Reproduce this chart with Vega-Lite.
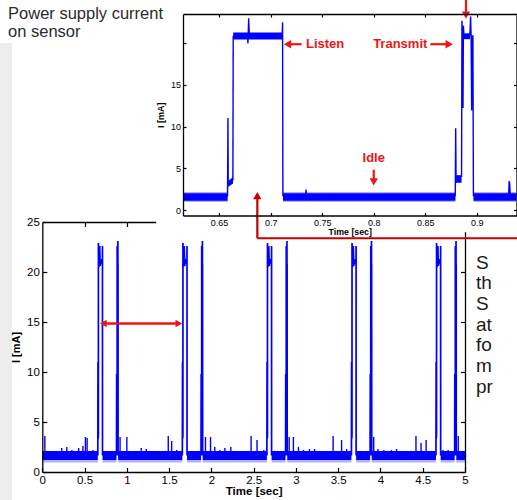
{
  "$schema": "https://vega.github.io/schema/vega-lite/v6.json",
  "width": 517,
  "height": 500,
  "autosize": "none",
  "padding": 0,
  "background": "white",
  "config": {
    "view": {"stroke": null},
    "font": "Liberation Sans",
    "axis": {"grid": false, "labelFlush": false, "labelOverlap": false, "domainColor": "#000", "tickColor": "#000", "labelColor": "#000", "titleColor": "#000", "labelFont": "Liberation Sans", "titleFont": "Liberation Sans", "domainWidth": 1.3, "tickWidth": 1.2}
  },
  "datasets": {
    "mband": [
      {"seg": "B0", "t": 0, "lo": 1.2, "hi": 2.1, "flo": 0.95},
      {"seg": "B0", "t": 0.6565, "lo": 1.2, "hi": 2.1, "flo": 0.95},
      {"seg": "B1", "t": 0.7122, "lo": 1.2, "hi": 2.1, "flo": 0.95},
      {"seg": "B1", "t": 0.8775, "lo": 1.2, "hi": 2.1, "flo": 0.95},
      {"seg": "B2", "t": 0.8967, "lo": 1.2, "hi": 2.1, "flo": 0.95},
      {"seg": "B2", "t": 1.6565, "lo": 1.2, "hi": 2.1, "flo": 0.95},
      {"seg": "B3", "t": 1.7122, "lo": 1.2, "hi": 2.1, "flo": 0.95},
      {"seg": "B3", "t": 1.8775, "lo": 1.2, "hi": 2.1, "flo": 0.95},
      {"seg": "B4", "t": 1.8967, "lo": 1.2, "hi": 2.1, "flo": 0.95},
      {"seg": "B4", "t": 2.6565, "lo": 1.2, "hi": 2.1, "flo": 0.95},
      {"seg": "B5", "t": 2.7122, "lo": 1.2, "hi": 2.1, "flo": 0.95},
      {"seg": "B5", "t": 2.8775, "lo": 1.2, "hi": 2.1, "flo": 0.95},
      {"seg": "B6", "t": 2.8967, "lo": 1.2, "hi": 2.1, "flo": 0.95},
      {"seg": "B6", "t": 3.6565, "lo": 1.2, "hi": 2.1, "flo": 0.95},
      {"seg": "B7", "t": 3.7122, "lo": 1.2, "hi": 2.1, "flo": 0.95},
      {"seg": "B7", "t": 3.8775, "lo": 1.2, "hi": 2.1, "flo": 0.95},
      {"seg": "B8", "t": 3.8967, "lo": 1.2, "hi": 2.1, "flo": 0.95},
      {"seg": "B8", "t": 4.6565, "lo": 1.2, "hi": 2.1, "flo": 0.95},
      {"seg": "B9", "t": 4.7122, "lo": 1.2, "hi": 2.1, "flo": 0.95},
      {"seg": "B9", "t": 4.8775, "lo": 1.2, "hi": 2.1, "flo": 0.95},
      {"seg": "B10", "t": 4.8967, "lo": 1.2, "hi": 2.1, "flo": 0.95},
      {"seg": "B10", "t": 5.0, "lo": 1.2, "hi": 2.1, "flo": 0.95}
    ],
    "mburst": [
      {"seg": "L0", "t": 0.6565, "v": 1.65}, {"seg": "L0", "t": 0.6586, "v": 11.0}, {"seg": "L0", "t": 0.659, "v": 3.3}, {"seg": "L0", "t": 0.6633, "v": 3.6}, {"seg": "L0", "t": 0.6637, "v": 22.9}, {"seg": "L0", "t": 0.67, "v": 20.5}, {"seg": "L0", "t": 0.679, "v": 22.6}, {"seg": "L0", "t": 0.685, "v": 20.6}, {"seg": "L0", "t": 0.695, "v": 21.3}, {"seg": "L0", "t": 0.7113, "v": 20.8}, {"seg": "L0", "t": 0.7117, "v": 22.6}, {"seg": "L0", "t": 0.7122, "v": 1.65},
      {"seg": "T0", "t": 0.8775, "v": 1.65}, {"seg": "T0", "t": 0.8795, "v": 9.8}, {"seg": "T0", "t": 0.88, "v": 3.5}, {"seg": "T0", "t": 0.8853, "v": 4.0}, {"seg": "T0", "t": 0.8856, "v": 22.6}, {"seg": "T0", "t": 0.8866, "v": 12.2}, {"seg": "T0", "t": 0.8872, "v": 22.0}, {"seg": "T0", "t": 0.8935, "v": 21.0}, {"seg": "T0", "t": 0.894, "v": 23.1}, {"seg": "T0", "t": 0.895, "v": 11.9}, {"seg": "T0", "t": 0.8958, "v": 20.8}, {"seg": "T0", "t": 0.8967, "v": 1.65},
      {"seg": "L1", "t": 1.6565, "v": 1.65}, {"seg": "L1", "t": 1.6586, "v": 11.0}, {"seg": "L1", "t": 1.659, "v": 3.3}, {"seg": "L1", "t": 1.6633, "v": 3.6}, {"seg": "L1", "t": 1.6637, "v": 22.9}, {"seg": "L1", "t": 1.67, "v": 20.5}, {"seg": "L1", "t": 1.679, "v": 22.6}, {"seg": "L1", "t": 1.685, "v": 20.6}, {"seg": "L1", "t": 1.695, "v": 21.3}, {"seg": "L1", "t": 1.7113, "v": 20.8}, {"seg": "L1", "t": 1.7117, "v": 22.6}, {"seg": "L1", "t": 1.7122, "v": 1.65},
      {"seg": "T1", "t": 1.8775, "v": 1.65}, {"seg": "T1", "t": 1.8795, "v": 9.8}, {"seg": "T1", "t": 1.88, "v": 3.5}, {"seg": "T1", "t": 1.8853, "v": 4.0}, {"seg": "T1", "t": 1.8856, "v": 22.6}, {"seg": "T1", "t": 1.8866, "v": 12.2}, {"seg": "T1", "t": 1.8872, "v": 22.0}, {"seg": "T1", "t": 1.8935, "v": 21.0}, {"seg": "T1", "t": 1.894, "v": 23.1}, {"seg": "T1", "t": 1.895, "v": 11.9}, {"seg": "T1", "t": 1.8958, "v": 20.8}, {"seg": "T1", "t": 1.8967, "v": 1.65},
      {"seg": "L2", "t": 2.6565, "v": 1.65}, {"seg": "L2", "t": 2.6586, "v": 11.0}, {"seg": "L2", "t": 2.659, "v": 3.3}, {"seg": "L2", "t": 2.6633, "v": 3.6}, {"seg": "L2", "t": 2.6637, "v": 22.9}, {"seg": "L2", "t": 2.67, "v": 20.5}, {"seg": "L2", "t": 2.679, "v": 22.6}, {"seg": "L2", "t": 2.685, "v": 20.6}, {"seg": "L2", "t": 2.695, "v": 21.3}, {"seg": "L2", "t": 2.7113, "v": 20.8}, {"seg": "L2", "t": 2.7117, "v": 22.6}, {"seg": "L2", "t": 2.7122, "v": 1.65},
      {"seg": "T2", "t": 2.8775, "v": 1.65}, {"seg": "T2", "t": 2.8795, "v": 9.8}, {"seg": "T2", "t": 2.88, "v": 3.5}, {"seg": "T2", "t": 2.8853, "v": 4.0}, {"seg": "T2", "t": 2.8856, "v": 22.6}, {"seg": "T2", "t": 2.8866, "v": 12.2}, {"seg": "T2", "t": 2.8872, "v": 22.0}, {"seg": "T2", "t": 2.8935, "v": 21.0}, {"seg": "T2", "t": 2.894, "v": 23.1}, {"seg": "T2", "t": 2.895, "v": 11.9}, {"seg": "T2", "t": 2.8958, "v": 20.8}, {"seg": "T2", "t": 2.8967, "v": 1.65},
      {"seg": "L3", "t": 3.6565, "v": 1.65}, {"seg": "L3", "t": 3.6586, "v": 11.0}, {"seg": "L3", "t": 3.659, "v": 3.3}, {"seg": "L3", "t": 3.6633, "v": 3.6}, {"seg": "L3", "t": 3.6637, "v": 22.9}, {"seg": "L3", "t": 3.67, "v": 20.5}, {"seg": "L3", "t": 3.679, "v": 22.6}, {"seg": "L3", "t": 3.685, "v": 20.6}, {"seg": "L3", "t": 3.695, "v": 21.3}, {"seg": "L3", "t": 3.7113, "v": 20.8}, {"seg": "L3", "t": 3.7117, "v": 22.6}, {"seg": "L3", "t": 3.7122, "v": 1.65},
      {"seg": "T3", "t": 3.8775, "v": 1.65}, {"seg": "T3", "t": 3.8795, "v": 9.8}, {"seg": "T3", "t": 3.88, "v": 3.5}, {"seg": "T3", "t": 3.8853, "v": 4.0}, {"seg": "T3", "t": 3.8856, "v": 22.6}, {"seg": "T3", "t": 3.8866, "v": 12.2}, {"seg": "T3", "t": 3.8872, "v": 22.0}, {"seg": "T3", "t": 3.8935, "v": 21.0}, {"seg": "T3", "t": 3.894, "v": 23.1}, {"seg": "T3", "t": 3.895, "v": 11.9}, {"seg": "T3", "t": 3.8958, "v": 20.8}, {"seg": "T3", "t": 3.8967, "v": 1.65},
      {"seg": "L4", "t": 4.6565, "v": 1.65}, {"seg": "L4", "t": 4.6586, "v": 11.0}, {"seg": "L4", "t": 4.659, "v": 3.3}, {"seg": "L4", "t": 4.6633, "v": 3.6}, {"seg": "L4", "t": 4.6637, "v": 22.9}, {"seg": "L4", "t": 4.67, "v": 20.5}, {"seg": "L4", "t": 4.679, "v": 22.6}, {"seg": "L4", "t": 4.685, "v": 20.6}, {"seg": "L4", "t": 4.695, "v": 21.3}, {"seg": "L4", "t": 4.7113, "v": 20.8}, {"seg": "L4", "t": 4.7117, "v": 22.6}, {"seg": "L4", "t": 4.7122, "v": 1.65},
      {"seg": "T4", "t": 4.8775, "v": 1.65}, {"seg": "T4", "t": 4.8795, "v": 9.8}, {"seg": "T4", "t": 4.88, "v": 3.5}, {"seg": "T4", "t": 4.8853, "v": 4.0}, {"seg": "T4", "t": 4.8856, "v": 22.6}, {"seg": "T4", "t": 4.8866, "v": 12.2}, {"seg": "T4", "t": 4.8872, "v": 22.0}, {"seg": "T4", "t": 4.8935, "v": 21.0}, {"seg": "T4", "t": 4.894, "v": 23.1}, {"seg": "T4", "t": 4.895, "v": 11.9}, {"seg": "T4", "t": 4.8958, "v": 20.8}, {"seg": "T4", "t": 4.8967, "v": 1.65}
    ],
    "mspike": [
      {"t": 0.03, "v": 3.6}, {"t": 0.23, "v": 2.4}, {"t": 0.29, "v": 2.5}, {"t": 0.35, "v": 2.2}, {"t": 0.43, "v": 2.4}, {"t": 0.48, "v": 2.6}, {"t": 0.51, "v": 3.5}, {"t": 0.53, "v": 3.4}, {"t": 0.6, "v": 2.2},
      {"t": 0.92, "v": 3.5}, {"t": 1.0, "v": 3.5}, {"t": 1.17, "v": 2.4}, {"t": 1.23, "v": 2.3}, {"t": 1.49, "v": 3.6}, {"t": 1.53, "v": 3.1}, {"t": 1.59, "v": 2.2},
      {"t": 1.93, "v": 3.5}, {"t": 1.99, "v": 3.5}, {"t": 2.04, "v": 2.5}, {"t": 2.1, "v": 2.2}, {"t": 2.16, "v": 2.4}, {"t": 2.23, "v": 2.5}, {"t": 2.47, "v": 3.6}, {"t": 2.54, "v": 3.2}, {"t": 2.62, "v": 2.2},
      {"t": 2.92, "v": 3.5}, {"t": 2.97, "v": 3.5}, {"t": 3.03, "v": 2.5}, {"t": 3.09, "v": 2.2}, {"t": 3.16, "v": 2.3}, {"t": 3.22, "v": 2.3}, {"t": 3.44, "v": 3.6}, {"t": 3.54, "v": 3.2}, {"t": 3.6, "v": 2.3},
      {"t": 3.92, "v": 3.5}, {"t": 3.97, "v": 2.3}, {"t": 4.04, "v": 2.2}, {"t": 4.13, "v": 2.2}, {"t": 4.19, "v": 2.3}, {"t": 4.42, "v": 3.6}, {"t": 4.48, "v": 2.9}, {"t": 4.54, "v": 3.2}, {"t": 4.74, "v": 2.2}, {"t": 4.8, "v": 2.2}, {"t": 4.92, "v": 3.6}
    ],
    "iband": [
      {"seg": "I0", "t": 0.615, "lo": 1.15, "hi": 2.05, "flo": 1.0, "fhi": 2.2},
      {"seg": "I0", "t": 0.6583, "lo": 1.15, "hi": 2.05, "flo": 1.0, "fhi": 2.2},
      {"seg": "I1", "t": 0.712, "lo": 1.15, "hi": 2.05, "flo": 1.0, "fhi": 2.2},
      {"seg": "I1", "t": 0.8792, "lo": 1.15, "hi": 2.05, "flo": 1.0, "fhi": 2.2},
      {"seg": "I2", "t": 0.8968, "lo": 1.15, "hi": 2.05, "flo": 1.0, "fhi": 2.2},
      {"seg": "I2", "t": 0.9385, "lo": 1.15, "hi": 2.05, "flo": 1.0, "fhi": 2.2}
    ],
    "ilevel": [
      {"seg": "P1", "t": 0.6589, "lo": 2.8, "hi": 3.5},
      {"seg": "P1", "t": 0.6635, "lo": 3.2, "hi": 4.0},
      {"seg": "P2", "t": 0.6637, "lo": 20.35, "hi": 21.2},
      {"seg": "P2", "t": 0.7114, "lo": 20.35, "hi": 21.2},
      {"seg": "P3", "t": 0.88, "lo": 3.3, "hi": 4.2},
      {"seg": "P3", "t": 0.8852, "lo": 3.3, "hi": 4.2},
      {"seg": "P4", "t": 0.8875, "lo": 20.4, "hi": 21.1},
      {"seg": "P4", "t": 0.8934, "lo": 20.4, "hi": 21.1}
    ],
    "iline": [
      {"seg": "a", "t": 0.6582, "v": 1.7}, {"seg": "a", "t": 0.6586, "v": 11.0}, {"seg": "a", "t": 0.6589, "v": 3.0},
      {"seg": "b", "t": 0.6634, "v": 3.6}, {"seg": "b", "t": 0.6637, "v": 20.8},
      {"seg": "c", "t": 0.6775, "v": 20.8}, {"seg": "c", "t": 0.678, "v": 19.9}, {"seg": "c", "t": 0.6787, "v": 22.9}, {"seg": "c", "t": 0.6793, "v": 20.8},
      {"seg": "d", "t": 0.7112, "v": 20.8}, {"seg": "d", "t": 0.7116, "v": 22.4}, {"seg": "d", "t": 0.7119, "v": 1.7},
      {"seg": "e", "t": 0.8791, "v": 1.7}, {"seg": "e", "t": 0.8795, "v": 9.8}, {"seg": "e", "t": 0.8799, "v": 3.3},
      {"seg": "f", "t": 0.8852, "v": 4.0}, {"seg": "f", "t": 0.8856, "v": 22.6}, {"seg": "f", "t": 0.8861, "v": 20.5}, {"seg": "f", "t": 0.8866, "v": 12.2}, {"seg": "f", "t": 0.887, "v": 22.0}, {"seg": "f", "t": 0.8875, "v": 20.8},
      {"seg": "g", "t": 0.8933, "v": 20.8}, {"seg": "g", "t": 0.894, "v": 23.1}, {"seg": "g", "t": 0.8945, "v": 20.5}, {"seg": "g", "t": 0.895, "v": 11.9}, {"seg": "g", "t": 0.8955, "v": 20.8}, {"seg": "g", "t": 0.8962, "v": 20.8}, {"seg": "g", "t": 0.8967, "v": 1.7},
      {"seg": "h", "t": 0.9309, "v": 1.9}, {"seg": "h", "t": 0.9314, "v": 3.5}, {"seg": "h", "t": 0.9319, "v": 3.2}, {"seg": "h", "t": 0.9324, "v": 1.9},
      {"seg": "k", "t": 0.7342, "v": 2.0}, {"seg": "k", "t": 0.7344, "v": 2.5}, {"seg": "k", "t": 0.7346, "v": 2.0}
    ],
    "irule": [
      {"kind": "bright", "t": 0.7301, "t2": 0.715, "v": 19.8, "v2": 19.8},
      {"kind": "bright", "t": 0.8549, "t2": 0.873, "v": 19.8, "v2": 19.8},
      {"kind": "bright", "t": 0.8, "t2": 0.8, "v": 4.85, "v2": 3.5},
      {"kind": "bright", "t": 0.8895, "t2": 0.8895, "v": 25.2, "v2": 23.3},
      {"kind": "dark", "t": 0.6871, "t2": 0.6871, "v": 1.8, "v2": -3.31},
      {"kind": "dark", "t": 0.6871, "t2": 0.96, "v": -3.31, "v2": -3.31}
    ],
    "ihead": [
      {"kind": "bright", "dir": "left", "t": 0.7164, "v": 19.8},
      {"kind": "bright", "dir": "right", "t": 0.8732, "v": 19.8},
      {"kind": "bright", "dir": "down", "t": 0.8, "v": 3.4},
      {"kind": "bright", "dir": "down", "t": 0.8895, "v": 23.26},
      {"kind": "dark", "dir": "up", "t": 0.6871, "v": 1.78}
    ]
  },
  "resolve": {"scale": {"x": "independent", "y": "independent"}, "axis": {"x": "independent", "y": "independent"}},
  "layer": [
    {
      "data": {"values": [{"t": -0.51, "t2": -0.358, "v": -3, "v2": 42.9}]},
      "mark": {"type": "rect", "color": "#ededed"},
      "encoding": {
        "x": {"field": "t", "type": "quantitative", "scale": {"domain": [0, 5], "range": [42.3, 465], "nice": false, "zero": false},
          "axis": {"orient": "bottom", "offset": -28, "values": [0, 0.5, 1, 1.5, 2, 2.5, 3, 3.5, 4, 4.5, 5], "format": "~g", "tickSize": -4.5, "labelPadding": 7, "labelFontSize": 11.5, "title": "Time [sec]", "titleFontSize": 11.5, "titleFontWeight": "bold", "titlePadding": -1, "zindex": 1}},
        "x2": {"field": "t2"},
        "y": {"field": "v", "type": "quantitative", "scale": {"domain": [0, 25], "range": [472, 222], "nice": false, "zero": false},
          "axis": {"orient": "left", "offset": -42.3, "values": [0, 5, 10, 15, 20, 25], "tickSize": -4.5, "labelPadding": 7.5, "labelFontSize": 11.5, "title": "I [mA]", "titleFontSize": 11, "titleFontWeight": "bold", "titlePadding": 5, "zindex": 1}},
        "y2": {"field": "v2"}
      }
    },
    {
      "data": {"values": [{"t": 0, "v": 0}]},
      "mark": {"type": "point", "opacity": 0},
      "encoding": {
        "x": {"field": "t", "type": "quantitative", "scale": {"domain": [0, 5], "range": [42.3, 465], "nice": false, "zero": false},
          "axis": {"orient": "top", "offset": -222, "values": [0.5, 1, 1.5, 2, 2.5, 3, 3.5, 4, 4.5], "tickSize": -4.5, "labels": false, "title": null, "zindex": 0}},
        "y": {"field": "v", "type": "quantitative", "scale": {"domain": [0, 25], "range": [472, 222], "nice": false, "zero": false},
          "axis": {"orient": "right", "offset": -52, "values": [5, 10, 15, 20], "tickSize": -4.5, "labels": false, "title": null, "zindex": 0}}
      }
    },
    {
      "data": {"name": "mband"},
      "mark": {"type": "area", "color": "#0000ff", "opacity": 0.3},
      "encoding": {
        "x": {"field": "t", "type": "quantitative", "scale": {"domain": [0, 5], "range": [42.3, 465], "nice": false, "zero": false}, "axis": null},
        "y": {"field": "lo", "type": "quantitative", "scale": {"domain": [0, 25], "range": [472, 222], "nice": false, "zero": false}, "axis": null},
        "y2": {"field": "flo"},
        "detail": {"field": "seg"}
      }
    },
    {
      "data": {"name": "mband"},
      "mark": {"type": "area", "color": "#0000ff"},
      "encoding": {
        "x": {"field": "t", "type": "quantitative", "scale": {"domain": [0, 5], "range": [42.3, 465], "nice": false, "zero": false}, "axis": null},
        "y": {"field": "hi", "type": "quantitative", "scale": {"domain": [0, 25], "range": [472, 222], "nice": false, "zero": false}, "axis": null},
        "y2": {"field": "lo"},
        "detail": {"field": "seg"}
      }
    },
    {
      "data": {"name": "mspike"},
      "mark": {"type": "rule", "color": "#0000ff", "strokeWidth": 1.4},
      "encoding": {
        "x": {"field": "t", "type": "quantitative", "scale": {"domain": [0, 5], "range": [42.3, 465], "nice": false, "zero": false}, "axis": null},
        "y": {"field": "v", "type": "quantitative", "scale": {"domain": [0, 25], "range": [472, 222], "nice": false, "zero": false}, "axis": null},
        "y2": {"datum": 2.0}
      }
    },
    {
      "data": {"name": "mburst"},
      "mark": {"type": "line", "color": "#0000ff", "strokeWidth": 1.7},
      "encoding": {
        "x": {"field": "t", "type": "quantitative", "scale": {"domain": [0, 5], "range": [42.3, 465], "nice": false, "zero": false}, "axis": null},
        "y": {"field": "v", "type": "quantitative", "scale": {"domain": [0, 25], "range": [472, 222], "nice": false, "zero": false}, "axis": null},
        "detail": {"field": "seg"}
      }
    },
    {
      "data": {"values": [{"t": 0.722, "t2": 1.615, "v": 14.85}]},
      "mark": {"type": "rule", "color": "#f01414", "strokeWidth": 2.5},
      "encoding": {
        "x": {"field": "t", "type": "quantitative", "scale": {"domain": [0, 5], "range": [42.3, 465], "nice": false, "zero": false}, "axis": null},
        "x2": {"field": "t2"},
        "y": {"field": "v", "type": "quantitative", "scale": {"domain": [0, 25], "range": [472, 222], "nice": false, "zero": false}, "axis": null}
      }
    },
    {
      "data": {"values": [{"dir": "left", "t": 0.722, "v": 14.85}, {"dir": "right", "t": 1.615, "v": 14.85}]},
      "mark": {"type": "point", "filled": true, "size": 60, "color": "#f01414", "opacity": 1},
      "encoding": {
        "x": {"field": "t", "type": "quantitative", "scale": {"domain": [0, 5], "range": [42.3, 465], "nice": false, "zero": false}, "axis": null},
        "y": {"field": "v", "type": "quantitative", "scale": {"domain": [0, 25], "range": [472, 222], "nice": false, "zero": false}, "axis": null},
        "shape": {"field": "dir", "type": "nominal", "scale": {"domain": ["left", "right", "up", "down"], "range": ["triangle-left", "triangle-right", "triangle-up", "triangle-down"]}, "legend": null}
      }
    },
    {
      "data": {"values": [
        {"s": "S", "t": 5.13, "v": 20.9}, {"s": "th", "t": 5.13, "v": 18.9}, {"s": "S", "t": 5.13, "v": 16.8}, {"s": "at", "t": 5.13, "v": 14.7}, {"s": "fo", "t": 5.13, "v": 12.7}, {"s": "m", "t": 5.13, "v": 10.6}, {"s": "pr", "t": 5.13, "v": 8.5}
      ]},
      "mark": {"type": "text", "align": "left", "baseline": "middle", "fontSize": 19, "color": "#1a1a1a", "font": "Liberation Sans"},
      "encoding": {
        "x": {"field": "t", "type": "quantitative", "scale": {"domain": [0, 5], "range": [42.3, 465], "nice": false, "zero": false}, "axis": null},
        "y": {"field": "v", "type": "quantitative", "scale": {"domain": [0, 25], "range": [472, 222], "nice": false, "zero": false}, "axis": null},
        "text": {"field": "s"}
      }
    },
    {
      "data": {"values": [{"t": 0.589, "t2": 0.96, "v": -2.6, "v2": 26.5}]},
      "mark": {"type": "rect", "color": "white"},
      "encoding": {
        "x": {"field": "t", "type": "quantitative", "scale": {"domain": [0.615, 0.9385], "range": [183, 516.5], "nice": false, "zero": false},
          "axis": {"orient": "bottom", "offset": -284.5, "values": [0.65, 0.7, 0.75, 0.8, 0.85, 0.9], "format": "~g", "tickSize": -3, "labelPadding": 5.5, "labelFontSize": 9, "title": "Time [sec]", "titleFontSize": 8.8, "titleFontWeight": "bold", "titlePadding": 0, "zindex": 1}},
        "x2": {"field": "t2"},
        "y": {"field": "v", "type": "quantitative", "scale": {"domain": [-0.6, 23.4], "range": [215.5, 14], "nice": false, "zero": false},
          "axis": {"orient": "left", "offset": -183, "values": [0, 5, 10, 15, 20], "labelExpr": "datum.value == 20 ? '' : datum.label", "tickSize": -3, "labelPadding": 5.5, "labelFontSize": 9, "title": "I [mA]", "titleFontSize": 9, "titleFontWeight": "bold", "titlePadding": 5, "zindex": 1}},
        "y2": {"field": "v2"}
      }
    },
    {
      "data": {"values": [{"t": 0.7, "v": 0}]},
      "mark": {"type": "point", "opacity": 0},
      "encoding": {
        "x": {"field": "t", "type": "quantitative", "scale": {"domain": [0.615, 0.9385], "range": [183, 516.5], "nice": false, "zero": false},
          "axis": {"orient": "top", "offset": -14, "values": [0.65, 0.7, 0.75, 0.8, 0.85, 0.9], "tickSize": -3, "labels": false, "title": null, "zindex": 1}},
        "y": {"field": "v", "type": "quantitative", "scale": {"domain": [-0.6, 23.4], "range": [215.5, 14], "nice": false, "zero": false},
          "axis": {"orient": "right", "offset": -0.5, "values": [0, 5, 10, 15, 20], "tickSize": -3, "labels": false, "title": null, "zindex": 1}}
      }
    },
    {
      "data": {"name": "iband"},
      "mark": {"type": "area", "color": "#0000ff", "opacity": 0.3},
      "encoding": {
        "x": {"field": "t", "type": "quantitative", "scale": {"domain": [0.615, 0.9385], "range": [183, 516.5], "nice": false, "zero": false}, "axis": null},
        "y": {"field": "fhi", "type": "quantitative", "scale": {"domain": [-0.6, 23.4], "range": [215.5, 14], "nice": false, "zero": false}, "axis": null},
        "y2": {"field": "flo"},
        "detail": {"field": "seg"}
      }
    },
    {
      "data": {"name": "iband"},
      "mark": {"type": "area", "color": "#0000ff"},
      "encoding": {
        "x": {"field": "t", "type": "quantitative", "scale": {"domain": [0.615, 0.9385], "range": [183, 516.5], "nice": false, "zero": false}, "axis": null},
        "y": {"field": "hi", "type": "quantitative", "scale": {"domain": [-0.6, 23.4], "range": [215.5, 14], "nice": false, "zero": false}, "axis": null},
        "y2": {"field": "lo"},
        "detail": {"field": "seg"}
      }
    },
    {
      "data": {"name": "ilevel"},
      "mark": {"type": "area", "color": "#0000ff"},
      "encoding": {
        "x": {"field": "t", "type": "quantitative", "scale": {"domain": [0.615, 0.9385], "range": [183, 516.5], "nice": false, "zero": false}, "axis": null},
        "y": {"field": "hi", "type": "quantitative", "scale": {"domain": [-0.6, 23.4], "range": [215.5, 14], "nice": false, "zero": false}, "axis": null},
        "y2": {"field": "lo"},
        "detail": {"field": "seg"}
      }
    },
    {
      "data": {"name": "iline"},
      "mark": {"type": "line", "color": "#0000ff", "strokeWidth": 1.4},
      "encoding": {
        "x": {"field": "t", "type": "quantitative", "scale": {"domain": [0.615, 0.9385], "range": [183, 516.5], "nice": false, "zero": false}, "axis": null},
        "y": {"field": "v", "type": "quantitative", "scale": {"domain": [-0.6, 23.4], "range": [215.5, 14], "nice": false, "zero": false}, "axis": null},
        "detail": {"field": "seg"}
      }
    },
    {
      "data": {"name": "irule"},
      "mark": {"type": "rule", "strokeWidth": 2.2},
      "encoding": {
        "x": {"field": "t", "type": "quantitative", "scale": {"domain": [0.615, 0.9385], "range": [183, 516.5], "nice": false, "zero": false}, "axis": null},
        "x2": {"field": "t2"},
        "y": {"field": "v", "type": "quantitative", "scale": {"domain": [-0.6, 23.4], "range": [215.5, 14], "nice": false, "zero": false}, "axis": null},
        "y2": {"field": "v2"},
        "color": {"field": "kind", "type": "nominal", "scale": {"domain": ["bright", "dark"], "range": ["#f01414", "#c40000"]}, "legend": null}
      }
    },
    {
      "data": {"name": "ihead"},
      "mark": {"type": "point", "filled": true, "size": 70, "opacity": 1},
      "encoding": {
        "x": {"field": "t", "type": "quantitative", "scale": {"domain": [0.615, 0.9385], "range": [183, 516.5], "nice": false, "zero": false}, "axis": null},
        "y": {"field": "v", "type": "quantitative", "scale": {"domain": [-0.6, 23.4], "range": [215.5, 14], "nice": false, "zero": false}, "axis": null},
        "color": {"field": "kind", "type": "nominal", "scale": {"domain": ["bright", "dark"], "range": ["#f01414", "#c40000"]}, "legend": null},
        "shape": {"field": "dir", "type": "nominal", "scale": {"domain": ["left", "right", "up", "down"], "range": ["triangle-left", "triangle-right", "triangle-up", "triangle-down"]}, "legend": null}
      }
    },
    {
      "data": {"values": [{"s": "Listen", "t": 0.7343, "v": 19.8}]},
      "mark": {"type": "text", "align": "left", "baseline": "middle", "fontSize": 13, "fontWeight": "bold", "color": "#f01414", "font": "Liberation Sans"},
      "encoding": {
        "x": {"field": "t", "type": "quantitative", "scale": {"domain": [0.615, 0.9385], "range": [183, 516.5], "nice": false, "zero": false}, "axis": null},
        "y": {"field": "v", "type": "quantitative", "scale": {"domain": [-0.6, 23.4], "range": [215.5, 14], "nice": false, "zero": false}, "axis": null},
        "text": {"field": "s"}
      }
    },
    {
      "data": {"values": [{"s": "Transmit", "t": 0.852, "v": 19.8}]},
      "mark": {"type": "text", "align": "right", "baseline": "middle", "fontSize": 13, "fontWeight": "bold", "color": "#f01414", "font": "Liberation Sans"},
      "encoding": {
        "x": {"field": "t", "type": "quantitative", "scale": {"domain": [0.615, 0.9385], "range": [183, 516.5], "nice": false, "zero": false}, "axis": null},
        "y": {"field": "v", "type": "quantitative", "scale": {"domain": [-0.6, 23.4], "range": [215.5, 14], "nice": false, "zero": false}, "axis": null},
        "text": {"field": "s"}
      }
    },
    {
      "data": {"values": [{"s": "Idle", "t": 0.8, "v": 6.2}]},
      "mark": {"type": "text", "align": "center", "baseline": "middle", "fontSize": 13, "fontWeight": "bold", "color": "#f01414", "font": "Liberation Sans"},
      "encoding": {
        "x": {"field": "t", "type": "quantitative", "scale": {"domain": [0.615, 0.9385], "range": [183, 516.5], "nice": false, "zero": false}, "axis": null},
        "y": {"field": "v", "type": "quantitative", "scale": {"domain": [-0.6, 23.4], "range": [215.5, 14], "nice": false, "zero": false}, "axis": null},
        "text": {"field": "s"}
      }
    },
    {
      "data": {"values": [{"s": "Power supply current", "t": 0.4453, "v": 23.4}, {"s": "on sensor", "t": 0.4453, "v": 21.26}]},
      "mark": {"type": "text", "align": "left", "baseline": "middle", "fontSize": 16.5, "color": "#2b2b2b", "font": "Liberation Sans"},
      "encoding": {
        "x": {"field": "t", "type": "quantitative", "scale": {"domain": [0.615, 0.9385], "range": [183, 516.5], "nice": false, "zero": false}, "axis": null},
        "y": {"field": "v", "type": "quantitative", "scale": {"domain": [-0.6, 23.4], "range": [215.5, 14], "nice": false, "zero": false}, "axis": null},
        "text": {"field": "s"}
      }
    }
  ]
}
